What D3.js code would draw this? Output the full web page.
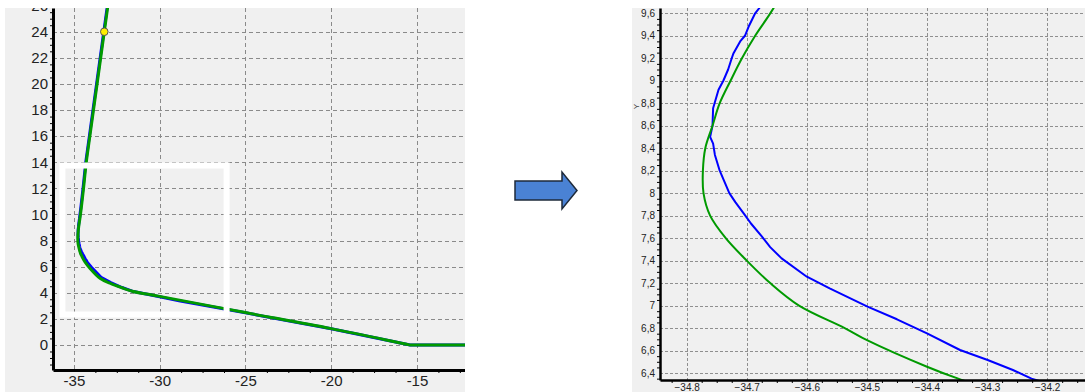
<!DOCTYPE html>
<html>
<head>
<meta charset="utf-8">
<script src="https://cdn.jsdelivr.net/npm/d3@7"></script>
<style>
body { margin: 0; background: #fff; }
svg { display: block; }
</style>
</head>
<body>
<div id="chart"></div>
<script>

// trajectories, [x, y]
const greenPath = [
    [-32.85, 27.6], [-33.23, 24], [-33.65, 20], [-34.07, 16], [-34.28, 14],
    [-34.44, 12], [-34.57, 10.5], [-34.655, 9.65], [-34.686, 9.4], [-34.708, 9.2],
    [-34.727, 9.0], [-34.745, 8.8], [-34.757, 8.6], [-34.769, 8.4], [-34.773, 8.2],
    [-34.772, 8.0], [-34.761, 7.8], [-34.735, 7.6], [-34.700, 7.4], [-34.661, 7.2],
    [-34.613, 7.0], [-34.537, 6.8], [-34.499, 6.69], [-34.400, 6.456], [-34.348, 6.35],
    [-34.07, 5.88], [-33.48, 5.11], [-32.9, 4.73], [-32.2, 4.38], [-31.6, 4.12],
    [-30.0, 3.72], [-25.0, 2.48], [-20.0, 1.25], [-15.6, 0.05], [-15.4, 0],
    [-15.2, 0], [-10.0, 0]
];

const bluePath = [
    [-32.88, 27.6], [-33.26, 24], [-33.68, 20], [-34.1, 16], [-34.31, 14],
    [-34.47, 12], [-34.6, 10.5], [-34.679, 9.647], [-34.686, 9.6], [-34.697, 9.48],
    [-34.703, 9.4], [-34.711, 9.35], [-34.722, 9.245], [-34.725, 9.2], [-34.731, 9.1],
    [-34.739, 9.0], [-34.747, 8.92], [-34.756, 8.755], [-34.757, 8.6], [-34.761, 8.5],
    [-34.756, 8.44], [-34.753, 8.34], [-34.745, 8.2], [-34.737, 8.1], [-34.729, 8.0],
    [-34.719, 7.92], [-34.703, 7.805], [-34.693, 7.73], [-34.675, 7.615], [-34.661, 7.52],
    [-34.642, 7.42], [-34.600, 7.257], [-34.562, 7.153], [-34.499, 6.99], [-34.450, 6.878],
    [-34.400, 6.753], [-34.345, 6.605], [-34.299, 6.516], [-34.257, 6.427], [-34.226, 6.35],
    [-33.98, 5.95], [-33.42, 5.18], [-32.85, 4.78], [-32.2, 4.4], [-31.6, 4.12],
    [-30.0, 3.7], [-28.8, 3.36], [-25.0, 2.46], [-20.0, 1.24], [-15.4, 0], [-10.0, 0]
];

const markerPoint = [-33.23, 24];
const zoomBox = { x0: -35.67, x1: -26.1, y0: 2.33, y1: 13.75 };

const leftXTicks = [-35, -30, -25, -20, -15];
const leftYTicks = [0, 2, 4, 6, 8, 10, 12, 14, 16, 18, 20, 22, 24, 26];
const rightXTicks = [-34.8, -34.7, -34.6, -34.5, -34.4, -34.3, -34.2];
const rightYTicks = [6.4, 6.6, 6.8, 7, 7.2, 7.4, 7.6, 7.8, 8, 8.2, 8.4, 8.6, 8.8, 9, 9.2, 9.4, 9.6];

const width = 1085;
const height = 392;

let svg = d3.select("#chart")
    .append("svg")
    .attr("width", width)
    .attr("height", height);

let defs = svg.append("defs");

function minorTicks(domain, step) {
    let lo = Math.ceil(Math.min(...domain) / step);
    let hi = Math.floor(Math.max(...domain) / step);
    return d3.range(lo, hi + 1).map(i => +(i * step).toFixed(4));
}

function drawPanel(o) {
    defs.append("clipPath").attr("id", o.id + "-panel")
        .append("rect")
        .attr("x", o.box[0]).attr("y", o.box[1])
        .attr("width", o.box[2] - o.box[0]).attr("height", o.box[3] - o.box[1]);
    defs.append("clipPath").attr("id", o.id + "-plot")
        .append("rect")
        .attr("x", o.plot[0]).attr("y", o.plot[1])
        .attr("width", o.plot[2] - o.plot[0]).attr("height", o.plot[3] - o.plot[1]);

    let g = svg.append("g").attr("clip-path", "url(#" + o.id + "-panel)");

    g.append("rect")
        .attr("x", o.box[0]).attr("y", o.box[1])
        .attr("width", o.box[2] - o.box[0]).attr("height", o.box[3] - o.box[1])
        .attr("fill", "#f0f0f0");

    let x = d3.scaleLinear().domain(o.xDomain).range([o.plot[0], o.plot[2]]);
    let y = d3.scaleLinear().domain(o.yDomain).range([o.plot[3], o.plot[1]]);

    let grid = g.append("g")
        .attr("stroke", o.gridColor)
        .attr("stroke-width", 1)
        .attr("stroke-dasharray", o.dash);
    grid.selectAll(".vgrid")
        .data(o.xTicks)
        .join("line")
        .attr("class", "vgrid")
        .attr("x1", d => Math.round(x(d)) + 0.5).attr("x2", d => Math.round(x(d)) + 0.5)
        .attr("y1", o.plot[1]).attr("y2", o.plot[3]);
    grid.selectAll(".hgrid")
        .data(o.yTicks)
        .join("line")
        .attr("class", "hgrid")
        .attr("y1", d => Math.round(y(d)) + 0.5).attr("y2", d => Math.round(y(d)) + 0.5)
        .attr("x1", o.plot[0]).attr("x2", o.plot[2]);

    let lines = g.append("g").attr("clip-path", "url(#" + o.id + "-plot)");

    lines.append("path")
        .datum(bluePath)
        .attr("fill", "none")
        .attr("stroke", "#0000ff")
        .attr("stroke-width", o.lineWidth)
        .attr("stroke-linejoin", "round")
        .attr("d", d3.line().x(d => x(d[0])).y(d => y(d[1])));

    lines.append("path")
        .datum(greenPath)
        .attr("fill", "none")
        .attr("stroke", "#009a00")
        .attr("stroke-width", o.lineWidth)
        .attr("stroke-linejoin", "round")
        .attr("d", d3.line().curve(d3.curveCatmullRom.alpha(0.5)).x(d => x(d[0])).y(d => y(d[1])));

    if (o.marker) {
        lines.append("circle")
            .attr("cx", x(markerPoint[0]))
            .attr("cy", y(markerPoint[1]))
            .attr("r", 3.8)
            .attr("fill", "#ffee00")
            .attr("stroke", "#555")
            .attr("stroke-width", 1);
    }

    if (o.zoomBox) {
        g.append("rect")
            .attr("x", x(zoomBox.x0)).attr("y", y(zoomBox.y1))
            .attr("width", x(zoomBox.x1) - x(zoomBox.x0))
            .attr("height", y(zoomBox.y0) - y(zoomBox.y1))
            .attr("fill", "none")
            .attr("stroke", "#ffffff")
            .attr("stroke-width", 6);
    }

    // minor ticks, no labels
    let xMinor = minorTicks(o.xDomain, o.xMinor).filter(v => !o.xTicks.some(t => Math.abs(t - v) < 1e-6));
    let yMinor = minorTicks(o.yDomain, o.yMinor).filter(v => !o.yTicks.some(t => Math.abs(t - v) < 1e-6));

    g.append("g")
        .attr("transform", "translate(0," + o.plot[3] + ")")
        .call(d3.axisBottom(x).tickValues(xMinor).tickSize(o.minorSize).tickSizeOuter(0).tickFormat(""))
        .call(a => a.select(".domain").remove())
        .selectAll("line").attr("stroke", "#000");
    g.append("g")
        .attr("transform", "translate(" + o.plot[0] + ",0)")
        .call(d3.axisLeft(y).tickValues(yMinor).tickSize(o.minorSize).tickSizeOuter(0).tickFormat(""))
        .call(a => a.select(".domain").remove())
        .selectAll("line").attr("stroke", "#000");

    let xAxis = g.append("g")
        .attr("transform", "translate(0," + o.plot[3] + ")")
        .call(d3.axisBottom(x).tickValues(o.xTicks).tickSize(0).tickSizeOuter(0).tickPadding(o.xPad).tickFormat(o.xFormat));
    let yAxis = g.append("g")
        .attr("transform", "translate(" + o.plot[0] + ",0)")
        .call(d3.axisLeft(y).tickValues(o.yTicks).tickSize(0).tickSizeOuter(0).tickPadding(o.yPad).tickFormat(o.yFormat));

    [xAxis, yAxis].forEach(a => {
        a.attr("font-family", "Arial, 'Liberation Sans', sans-serif")
            .attr("font-size", o.fontSize);
        a.selectAll("text").attr("fill", "#222");
        a.select(".domain")
            .attr("stroke", "#000")
            .attr("stroke-width", o.axisWidth);
    });

    if (o.yLabel) {
        g.append("text")
            .attr("transform", "translate(" + (o.plot[0] - 21) + "," + y(8.77) + ") rotate(-90)")
            .attr("text-anchor", "middle")
            .attr("font-family", "Arial, 'Liberation Sans', sans-serif")
            .attr("font-size", 8)
            .attr("fill", "#444")
            .text(o.yLabel);
    }
}

drawPanel({
    id: "overview",
    box: [5, 8, 465, 392],
    plot: [53, 8, 465, 370],
    xDomain: [-36.22, -12.2],
    yDomain: [-1.92, 25.82],
    xTicks: leftXTicks,
    yTicks: leftYTicks,
    xMinor: 1.25,
    yMinor: 0.5,
    xFormat: d => d,
    yFormat: d => d,
    gridColor: "#8a8a8a",
    dash: "4,3",
    lineWidth: 3,
    axisWidth: 3,
    minorSize: 3,
    fontSize: 15,
    xPad: 5,
    yPad: 5,
    marker: true,
    zoomBox: true
});

drawPanel({
    id: "detail",
    box: [632, 8, 1085, 392],
    plot: [660, 8, 1085, 380],
    xDomain: [-34.8444, -34.137],
    yDomain: [6.338, 9.647],
    xTicks: rightXTicks,
    yTicks: rightYTicks,
    xMinor: 0.025,
    yMinor: 0.05,
    xFormat: d => d3.format(".1f")(d),
    yFormat: d => String(+d.toFixed(1)).replace(".", ","),
    gridColor: "#8f8f8f",
    dash: "3,2",
    lineWidth: 2,
    axisWidth: 2.5,
    minorSize: 3,
    fontSize: 10,
    xPad: 4,
    yPad: 5,
    yLabel: "Y"
});

// arrow between the two panels
svg.append("path")
    .attr("d", "M515,181 L562,181 L562,172 L577,190.5 L562,209 L562,200 L515,200 Z")
    .attr("fill", "#4a82d4")
    .attr("stroke", "#1e2a3a")
    .attr("stroke-width", 1.5)
    .attr("stroke-linejoin", "miter");

</script>
</body>
</html>
